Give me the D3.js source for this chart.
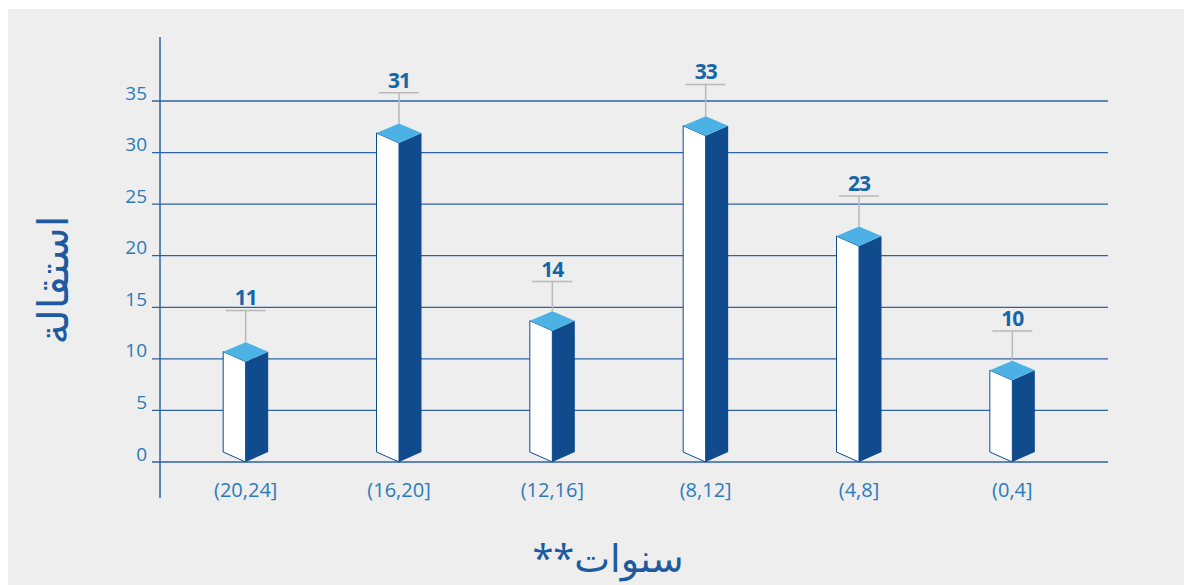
<!DOCTYPE html>
<html>
<head>
<meta charset="utf-8">
<script src="https://cdn.jsdelivr.net/npm/d3@7"></script>
<style>
  body { margin: 0; background: #ffffff; }
  svg { display: block; font-family: "Open Sans", "Noto Sans", sans-serif; }
</style>
</head>
<body>
<div id="chart"></div>
<script>
// categories (years of service)
const categories = ["(20,24]", "(16,20]", "(12,16]", "(8,12]", "(4,8]", "(0,4]"];
// printed counts above each bar
const counts = [11, 31, 14, 33, 23, 10];
// heights of the drawn boxes
const barTops = [10.7, 31.9, 13.7, 32.6, 21.9, 8.9];
// top of the grey whisker above each box
const whiskerTops = [14.7, 35.8, 17.5, 36.6, 25.8, 12.7];
const yTicks = [0, 5, 10, 15, 20, 25, 30, 35];

const colors = {
  bg: "#eeeeee",
  grid: "#2f62a3",
  tick: "#2b7bbb",
  label: "#1566a9",
  title: "#1d5aa0",
  top: "#4cb2e5",
  side: "#0f4b8d",
  front: "#ffffff",
  whisker: "#b9b9b9"
};

const width = 1184, height = 585;
const svg = d3.select("#chart").append("svg")
  .attr("width", width)
  .attr("height", height);

// grey panel
svg.append("rect")
  .attr("x", 8).attr("y", 9)
  .attr("width", width - 8).attr("height", height - 9)
  .attr("fill", colors.bg);

const x = d3.scaleBand().domain(categories).range([169, 1089]);
const y = d3.scaleLinear().domain([0, 35]).range([462, 101]);

// gridlines
svg.append("g").selectAll("line")
  .data(yTicks)
  .join("line")
  .attr("x1", 152).attr("x2", 1108)
  .attr("y1", d => y(d)).attr("y2", d => y(d))
  .attr("stroke", colors.grid)
  .attr("stroke-width", 1.3);

// y axis
const yAxis = svg.append("g")
  .attr("transform", "translate(160,0)")
  .call(d3.axisLeft(y).tickValues(yTicks).tickSize(0).tickPadding(13));
yAxis.select(".domain").remove();
yAxis.selectAll("text")
  .attr("dy", "-0.1em")
  .attr("fill", colors.tick)
  .style("font-size", "19px")
  .style("font-family", "'Open Sans', sans-serif");

svg.append("line")
  .attr("x1", 160).attr("x2", 160)
  .attr("y1", 37).attr("y2", 498)
  .attr("stroke", colors.grid)
  .attr("stroke-width", 1.5);

// x labels
const xAxis = svg.append("g")
  .attr("transform", "translate(0,462)")
  .call(d3.axisBottom(x).tickSize(0).tickPadding(21));
xAxis.select(".domain").remove();
xAxis.selectAll("text")
  .attr("fill", colors.tick)
  .style("font-size", "20px")
  .style("font-family", "'Open Sans', sans-serif");

// 3d boxes
const half = 22.5, dip = 10, rise = 9.5;
const bars = svg.append("g").selectAll("g")
  .data(categories.map((c, i) => ({c, count: counts[i], top: barTops[i], whisker: whiskerTops[i]})))
  .join("g");

bars.each(function(d) {
  const g = d3.select(this);
  const cx = x(d.c) + x.bandwidth() / 2;
  const y0 = y(0);
  const ym = y(d.top);

  // whisker
  g.append("line")
    .attr("x1", cx).attr("x2", cx)
    .attr("y1", ym - rise).attr("y2", y(d.whisker))
    .attr("stroke", colors.whisker).attr("stroke-width", 1.5);
  g.append("line")
    .attr("x1", cx - 20).attr("x2", cx + 20)
    .attr("y1", y(d.whisker)).attr("y2", y(d.whisker))
    .attr("stroke", colors.whisker).attr("stroke-width", 1.5);

  // left face
  g.append("polygon")
    .attr("points", [[cx, y0], [cx - half, y0 - dip], [cx - half, ym], [cx, ym + dip]].join(" "))
    .attr("fill", colors.front)
    .attr("stroke", colors.side).attr("stroke-width", 1);
  // right face
  g.append("polygon")
    .attr("points", [[cx, y0], [cx + half, y0 - dip], [cx + half, ym], [cx, ym + dip]].join(" "))
    .attr("fill", colors.side);
  // top
  g.append("polygon")
    .attr("points", [[cx, ym - rise], [cx - half, ym], [cx, ym + dip], [cx + half, ym]].join(" "))
    .attr("fill", colors.top);

  // count label
  g.append("text")
    .attr("x", cx).attr("y", y(d.whisker) - 5)
    .attr("text-anchor", "middle")
    .attr("fill", colors.label)
    .style("font-size", "21px")
    .style("font-weight", "bold")
    .style("letter-spacing", "-1px")
    .text(d.count);
});

// axis titles
svg.append("text")
  .attr("transform", "translate(68,280) rotate(-90)")
  .attr("text-anchor", "middle")
  .attr("fill", colors.title)
  .style("font-size", "42px")
  .style("font-family", "'Noto Sans', 'DejaVu Sans', sans-serif")
  .text("استقالة");

svg.append("text")
  .attr("x", 608).attr("y", 572)
  .attr("text-anchor", "middle")
  .attr("fill", colors.title)
  .style("font-size", "38px")
  .style("font-family", "'Noto Sans', 'DejaVu Sans', sans-serif")
  .text("**سنوات");
</script>
</body>
</html>
